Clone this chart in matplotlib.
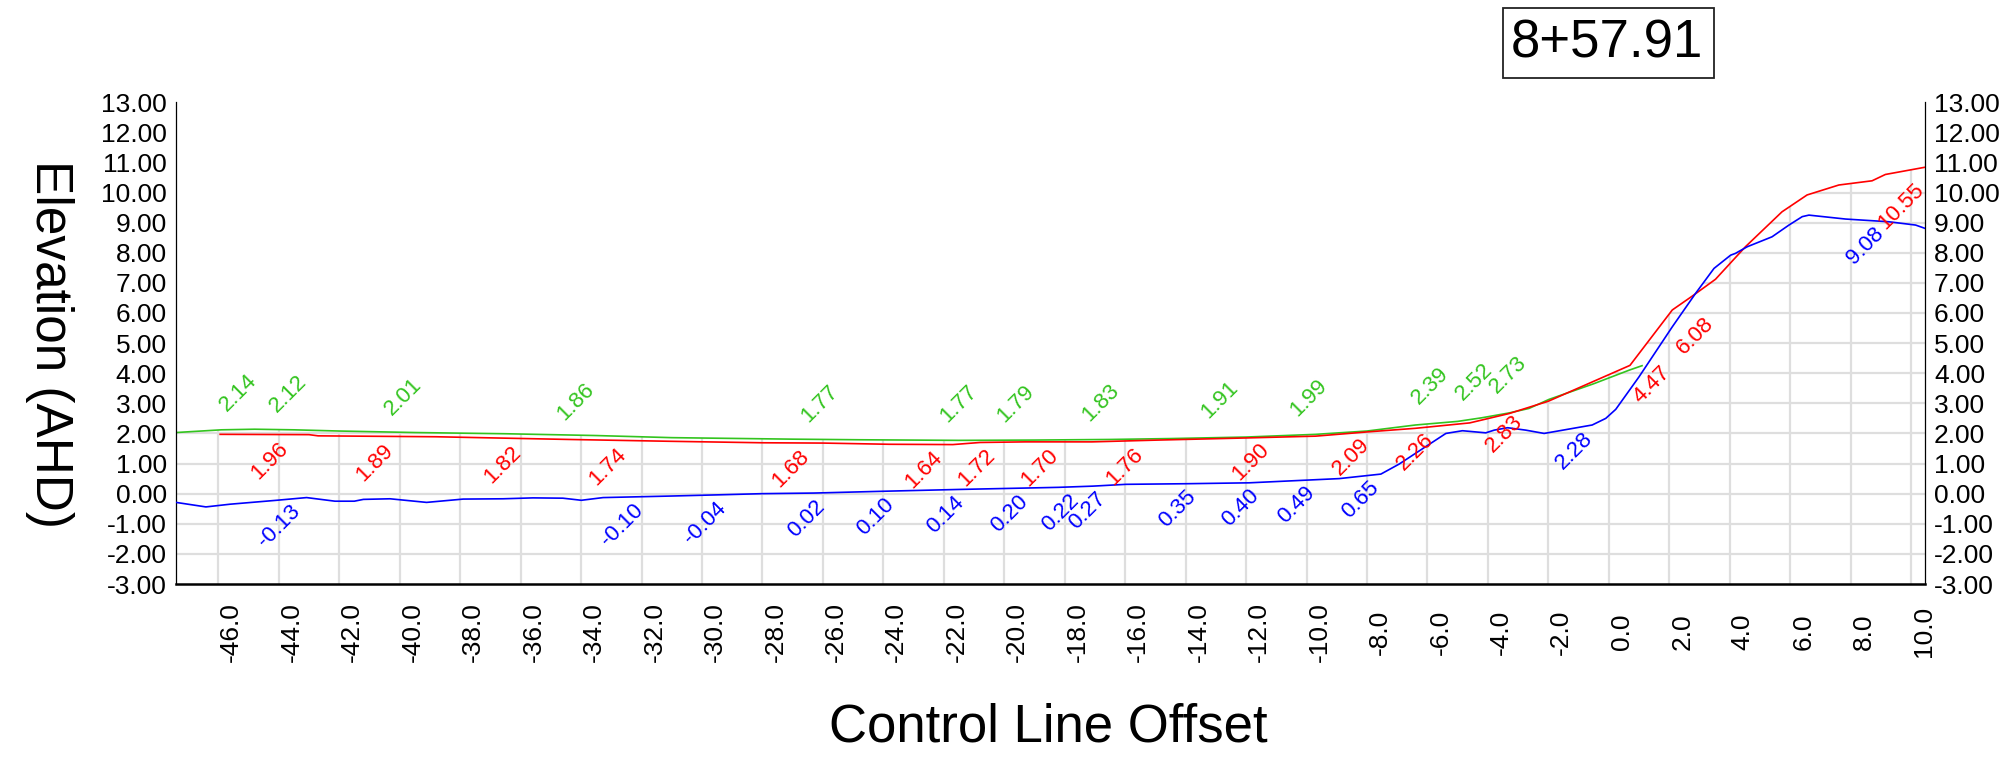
import numpy as np
import matplotlib
matplotlib.use("Agg")
import matplotlib.pyplot as plt
from matplotlib.patches import Polygon, Rectangle
from matplotlib.transforms import ScaledTranslation

plt.rcParams['font.family'] = ['Liberation Sans', 'DejaVu Sans']

chainage = "8+57.91"

# Surface profiles: offset from control line (m) and elevation (m AHD)
green_x = [-47.40, -45.90, -44.80, -43.50, -42.00, -39.50, -36.50, -33.50, -31.00,
           -27.00, -24.80, -21.50, -19.00, -16.50, -14.50, -12.00, -9.70, -8.00,
           -6.40, -5.00, -4.20, -3.30, -2.64, -1.98, -0.50, 0.67, 1.10]
green_z = [2.03, 2.12, 2.14, 2.12, 2.08, 2.03, 1.99, 1.93, 1.86,
           1.81, 1.79, 1.77, 1.78, 1.80, 1.83, 1.88, 1.97, 2.08,
           2.28, 2.40, 2.52, 2.68, 2.83, 3.13, 3.65, 4.10, 4.25]

red_x = [-45.94, -43.00, -42.70, -38.80, -34.40, -31.10, -28.00, -26.00, -23.80,
         -21.70, -20.80, -19.30, -17.10, -14.90, -12.00, -9.70, -8.00, -6.40,
         -4.60, -3.30, -2.00, 0.70, 2.10, 2.76, 3.53, 4.52, 5.73, 6.56, 7.61,
         8.71, 9.15, 10.46]
red_z = [1.97, 1.96, 1.92, 1.89, 1.80, 1.74, 1.69, 1.68, 1.64,
         1.63, 1.70, 1.72, 1.72, 1.78, 1.85, 1.91, 2.05, 2.17,
         2.35, 2.66, 3.07, 4.26, 6.10, 6.56, 7.12, 8.20, 9.36, 9.92, 10.25,
         10.39, 10.60, 10.84]

blue_x = [-47.40, -46.41, -45.61, -44.07, -43.08, -42.14, -41.50, -41.20, -40.32,
          -39.11, -37.90, -36.58, -35.59, -34.60, -33.99, -33.27, -31.07, -29.50,
          -28.00, -26.30, -24.00, -21.50, -19.60, -18.20, -17.07, -15.97, -14.00,
          -11.90, -8.92, -7.54, -6.94, -5.39, -4.84, -4.07, -3.79, -3.35, -2.75,
          -2.14, -0.55, -0.10, 0.23, 1.00, 2.10, 2.87, 3.48, 4.03, 4.19, 4.58,
          5.40, 5.96, 6.40, 6.62, 7.83, 9.26, 10.15, 10.46]
blue_z = [-0.29, -0.44, -0.35, -0.22, -0.13, -0.25, -0.25, -0.19, -0.17,
          -0.29, -0.18, -0.17, -0.14, -0.15, -0.22, -0.13, -0.08, -0.04,
          0.00, 0.02, 0.08, 0.14, 0.18, 0.21, 0.25, 0.31, 0.33,
          0.36, 0.50, 0.65, 0.98, 2.00, 2.09, 2.02, 2.11, 2.19, 2.11,
          2.00, 2.28, 2.50, 2.80, 3.88, 5.54, 6.65, 7.48, 7.92, 7.98, 8.20,
          8.53, 8.92, 9.20, 9.25, 9.12, 9.03, 8.92, 8.81]

# Annotated elevations (offset, value)
green_lbl_x = [-45.72, -44.07, -40.27, -34.54, -26.50, -21.90, -19.99, -17.18,
               -13.24, -10.30, -6.27, -4.84, -3.69]
green_lbl_z = [2.14, 2.12, 2.01, 1.86, 1.77, 1.77, 1.79, 1.83,
               1.91, 1.99, 2.39, 2.52, 2.73]

red_lbl_x = [-44.07, -40.60, -36.36, -32.90, -26.83, -22.42, -20.69, -18.61,
             -15.80, -11.62, -8.28, -6.17, -3.24, 1.66, 3.09, 10.03]
red_lbl_z = [1.96, 1.89, 1.82, 1.74, 1.68, 1.64, 1.72, 1.70,
             1.76, 1.90, 2.09, 2.26, 2.83, 4.47, 6.08, 10.55]

blue_lbl_x = [-43.69, -32.33, -29.58, -26.33, -24.02, -21.70, -19.61, -17.90,
              -17.02, -14.04, -11.95, -10.11, -7.98, -0.90, 8.71]
blue_lbl_z = [-0.13, -0.10, -0.04, 0.02, 0.10, 0.14, 0.20, 0.22,
              0.27, 0.35, 0.40, 0.49, 0.65, 2.28, 9.08]

x_ticks = np.arange(-46, 11, 2)
y_ticks = np.arange(-3, 14, 1)
x_tick_labels = [f"{v:.1f}" for v in x_ticks]
y_tick_labels = [f"{v:.2f}" for v in y_ticks]

GREEN = '#33c41f'
RED = '#ff0000'
BLUE = '#0000ff'
GRID = '#dedede'

X_MIN, X_MAX = -47.40, 10.46
Y_MIN, Y_MAX = -3.0, 13.0

fig = plt.figure(figsize=(20.04, 7.64), dpi=100)
ax = fig.add_axes([0.08782, 0.23560, 0.87275, 0.63063])
ax.set_xlim(X_MIN, X_MAX)
ax.set_ylim(Y_MIN, Y_MAX)

# Grid is only drawn beneath the uppermost surface
xs = np.linspace(X_MIN, X_MAX, 3000)
stack = np.vstack([np.interp(xs, sx, sz, left=np.nan, right=np.nan)
                   for sx, sz in ((green_x, green_z), (red_x, red_z), (blue_x, blue_z))])
env = np.nanmax(stack, axis=0)
verts = [(X_MIN, Y_MIN)] + list(zip(xs, env)) + [(X_MAX, Y_MIN)]
clip_poly = Polygon(verts, closed=True, transform=ax.transData, facecolor='none', edgecolor='none')
ax.add_patch(clip_poly)

vl = ax.vlines(x_ticks, Y_MIN, Y_MAX, colors=GRID, linewidth=1.6, zorder=0.5)
hl = ax.hlines(y_ticks[1:], X_MIN, X_MAX, colors=GRID, linewidth=1.6, zorder=0.5)
vl.set_clip_path(clip_poly)
hl.set_clip_path(clip_poly)

ax.plot(green_x, green_z, color=GREEN, linewidth=1.2, zorder=2)
ax.plot(red_x, red_z, color=RED, linewidth=1.2, zorder=3)
ax.plot(blue_x, blue_z, color=BLUE, linewidth=1.2, zorder=3)

LBL_FS = 16
for x, z in zip(green_lbl_x, green_lbl_z):
    ax.annotate(f"{z:.2f}", xy=(x, z), xytext=(0, 17), textcoords='offset pixels',
                rotation=45, rotation_mode='anchor', ha='left', va='baseline',
                color=GREEN, fontsize=LBL_FS, zorder=4)
for lx, lz, col in ((red_lbl_x, red_lbl_z, RED), (blue_lbl_x, blue_lbl_z, BLUE)):
    for x, z in zip(lx, lz):
        ax.annotate(f"{z:.2f}", xy=(x, z), xytext=(1, -3), textcoords='offset pixels',
                    rotation=45, rotation_mode='anchor', ha='right', va='top',
                    color=col, fontsize=LBL_FS, zorder=4)

# Axes frame
ax.spines['top'].set_visible(False)
ax.spines['left'].set_linewidth(0.9)
ax.spines['right'].set_linewidth(0.9)
ax.spines['bottom'].set_linewidth(1.8)
for s in ax.spines.values():
    s.set_color('black')

ax.set_yticks(y_ticks, y_tick_labels)
ax.set_xticks(x_ticks, x_tick_labels)
ax.tick_params(axis='y', length=0, labelsize=19, labelleft=True, labelright=True, pad=6.5)
ax.tick_params(axis='x', length=0, labelsize=19, pad=34.5)
for lbl in ax.get_xticklabels():
    lbl.set_rotation(90)
    lbl.set_verticalalignment('center')
    lbl.set_horizontalalignment('center')
    lbl.set_transform(lbl.get_transform() + ScaledTranslation(0.13, 0, fig.dpi_scale_trans))

# Axis titles
fig.text(49 / 2004, 1 - 343.5 / 764, 'Elevation (AHD)', rotation=-90,
         ha='center', va='center', fontsize=37)
fig.text(1048 / 2004, 1 - 742 / 764, 'Control Line Offset',
         ha='center', va='baseline', fontsize=38)

# Chainage box
fig.patches.append(Rectangle((1503.3 / 2004, 1 - 78.3 / 764), 210.7 / 2004, 70 / 764,
                             transform=fig.transFigure, facecolor='white',
                             edgecolor='#222222', linewidth=1.3))
fig.text(1607 / 2004, 1 - 44 / 764, chainage, ha='center', va='center', fontsize=38)

fig.savefig('out.png', dpi=100)
